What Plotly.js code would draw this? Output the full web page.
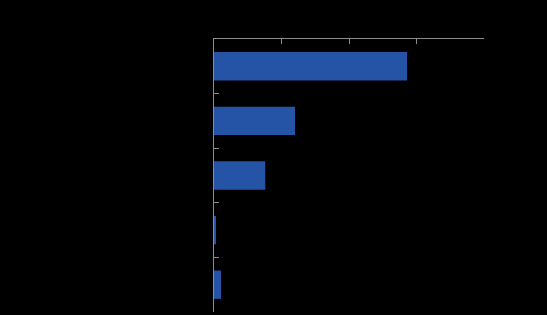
<!DOCTYPE html>
<html>
<head>
<meta charset="utf-8">
<script src="https://cdn.plot.ly/plotly-3.0.1.min.js"></script>
<style>html,body{margin:0;padding:0;background:#000;}#chart{width:547px;height:315px;}</style>
</head>
<body>
<div id="chart"></div>
<script>
const categories = ["Category 1", "Category 2", "Category 3", "Category 4", "Category 5"];
const values = [143, 60, 38, 1.5, 5.2];
const xTicks = [0, 50, 100, 150, 200];

const trace = {
  type: "bar",
  orientation: "h",
  y: categories,
  x: values,
  marker: {color: "#2553a5"},
  width: 0.52,
  hoverinfo: "x+y"
};

const layout = {
  width: 547,
  height: 315,
  paper_bgcolor: "#000",
  plot_bgcolor: "#000",
  margin: {l: 214, r: 63, t: 39, b: 3, pad: 0},
  showlegend: false,
  font: {family: "Liberation Sans, Arial, sans-serif", size: 11, color: "#000"},
  xaxis: {
    side: "top",
    range: [0, 200],
    tickvals: xTicks,
    ticks: "inside",
    ticklen: 5,
    tickcolor: "#8c8c8c",
    showline: true,
    linecolor: "#8c8c8c",
    linewidth: 1,
    showgrid: false,
    zeroline: false,
    tickfont: {color: "#000"}
  },
  yaxis: {
    type: "category",
    autorange: "reversed",
    tickson: "boundaries",
    ticks: "inside",
    ticklen: 5,
    tickcolor: "#8c8c8c",
    showline: true,
    linecolor: "#8c8c8c",
    linewidth: 1,
    showgrid: false,
    zeroline: false,
    tickfont: {color: "#000"}
  }
};

Plotly.newPlot("chart", [trace], layout, {displayModeBar: false, staticPlot: true});
</script>
</body>
</html>
